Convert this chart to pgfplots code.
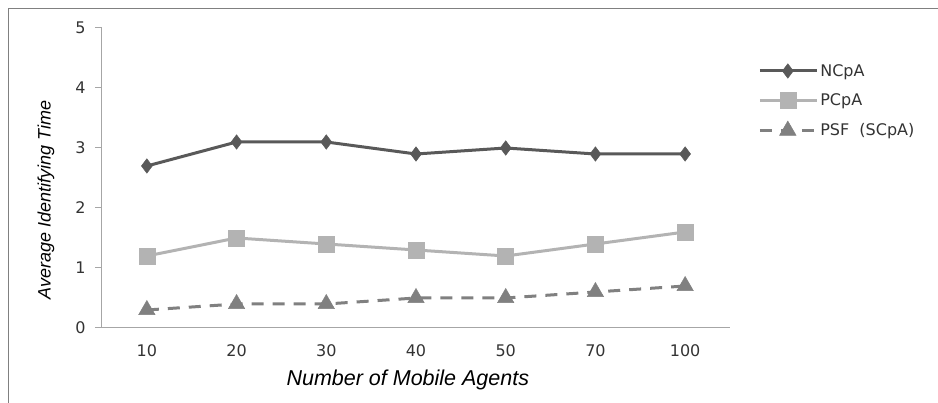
\documentclass[border=0pt]{standalone}
\usepackage{pgfplots}
\pgfplotsset{compat=1.18}
\usepackage{fontspec}
\setmainfont{DejaVu Sans}
\newfontfamily\arialfont{Liberation Sans}
\definecolor{cN}{HTML}{595959}
\definecolor{cP}{HTML}{B3B3B3}
\definecolor{cS}{HTML}{808080}
\definecolor{axc}{HTML}{A6A6A6}
\begin{document}
\begin{tikzpicture}[x=1pt,y=1pt]
\path[use as bounding box] (0,0) rectangle (938,403);
\draw[color=cS, line width=1.5pt] (8.5,0) -- (8.5,394.5) -- (938,394.5);
\begin{axis}[
  at={(102pt,75pt)}, anchor=south west,
  scale only axis, width=628pt, height=300pt,
  xmin=-0.5, xmax=6.5, ymin=0, ymax=5,
  axis x line*=bottom, axis y line*=left,
  axis line style={draw=axc, line width=1pt, -},
  xtick={0,...,6},
  xticklabels={10,20,30,40,50,70,100},
  ytick={0,1,2,3,4,5},
  tick style={draw=axc, line width=1pt},
  x tick style={draw=none},
  major tick length=7pt,
  tick align=outside,
  ticklabel style={font=\fontsize{16}{18}\selectfont, text=black!80},
  /pgf/number format/assume math mode=true,
  xticklabel style={yshift=-6pt},
  yticklabel style={xshift=-6pt},
  xlabel={\arialfont\itshape\fontsize{21.5}{24}\selectfont Number of Mobile Agents},
  ylabel={\arialfont\itshape\fontsize{18}{20}\selectfont Average Identifying Time},
  xlabel style={at={(axis description cs:0.487,0)}, anchor=center, yshift=-52pt},
  ylabel style={at={(axis description cs:0,0.427)}, anchor=center, yshift=56pt},
  legend style={at={(1.04,0.893)}, anchor=north west, draw=none, fill=none,
    font=\fontsize{16}{18}\selectfont, row sep=12pt, text=black!80,
    /tikz/every even column/.append style={column sep=8pt}},
  legend cell align=left,
  legend image code/.code={\draw[mark repeat=2,mark phase=2,#1] plot coordinates {(0pt,0pt)(28pt,0pt)(57pt,0pt)};},
  clip=false,
]
\addplot[color=cN, line width=3pt, mark=diamond*, mark size=8.5pt, mark options={solid, fill=cN, draw=cN, line width=0.5pt, scale=0.85}]
  coordinates {(0,2.7)(1,3.1)(2,3.1)(3,2.9)(4,3.0)(5,2.9)(6,2.9)};
\addlegendentry{NCpA}
\addplot[color=cP, line width=3pt, mark=square*, mark size=8pt, mark options={solid, fill=cP, draw=cP, line width=0.5pt}]
  coordinates {(0,1.2)(1,1.5)(2,1.4)(3,1.3)(4,1.2)(5,1.4)(6,1.6)};
\addlegendentry{PCpA}
\addplot[color=cS, line width=3pt, dash pattern=on 12pt off 9pt, mark=triangle*, mark size=9.5pt, mark options={solid, fill=cS, draw=cS, line width=0.5pt}]
  coordinates {(0,0.3)(1,0.4)(2,0.4)(3,0.5)(4,0.5)(5,0.6)(6,0.7)};
\addlegendentry{PSF~~(SCpA)}
\end{axis}
\end{tikzpicture}
\end{document}
